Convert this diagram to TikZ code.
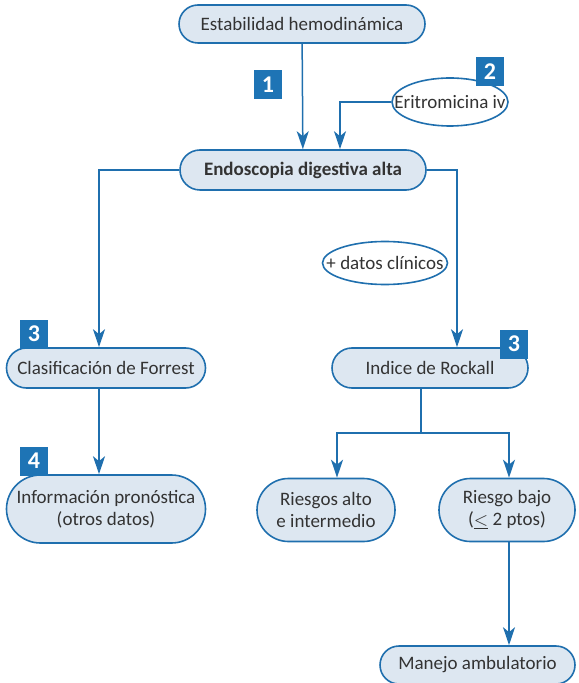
\documentclass[tikz,border=0pt]{standalone}
\usepackage{fontspec}
\setmainfont{Carlito}
\usepackage{xcolor}
\usetikzlibrary{positioning, arrows.meta, shapes.misc, shapes.geometric}

\definecolor{azul}{HTML}{1F6FAE}
\definecolor{celeste}{HTML}{DDE7F1}
\definecolor{insignia}{HTML}{1E74B5}
\definecolor{texto}{HTML}{333333}

\begin{document}
\begin{tikzpicture}[x=0.5pt,y=-0.5pt,->,>={Stealth[length=9pt,width=6pt,inset=2.5pt]},
                    line width=0.75pt,draw=azul,
                    main node/.style={rounded rectangle,fill=celeste,draw=azul,line width=0.8pt,
                        text=texto,font=\fontsize{9.5}{11}\selectfont,align=center,inner sep=1pt},
                    oval node/.style={ellipse,draw=azul,fill=white,line width=0.8pt,text=texto,
                        font=\fontsize{9.5}{11}\selectfont,inner xsep=-9pt,inner ysep=0pt},
                    badge/.style={fill=insignia,text=white,font=\fontsize{12}{12}\selectfont\bfseries,
                        minimum width=14pt,minimum height=14.5pt,inner sep=0pt}]

        \useasboundingbox (0,0) rectangle (578,683);

        \node[main node, minimum width=125pt, minimum height=19pt] (estab) at (302,24) {Estabilidad hemodinámica};
        \node[main node, minimum width=125pt, minimum height=20pt, font=\fontsize{9.5}{11}\selectfont\bfseries] (endo) at (303,170) {Endoscopia digestiva alta};
        \node[oval node, minimum width=58pt, minimum height=24pt] (eritro) at (450,102) {Eritromicina iv};
        \node[oval node, minimum width=62.5pt, minimum height=21.5pt] (datos) at (385,263) {+ datos clínicos};

        \node[main node, minimum width=101.5pt, minimum height=20pt] (forrest) at (106,368) {Clasificación de Forrest};
        \node[main node, minimum width=100pt, minimum height=20pt] (rockall) at (430,368) {Indice de Rockall};
        \node[main node, minimum width=101.5pt, minimum height=34pt] (info) at (106,509) {Información pronóstica\\(otros datos)};
        \node[main node, minimum width=71pt, minimum height=31.5pt] (alto) at (326,510) {Riesgos alto\\e intermedio};
        \node[main node, minimum width=70pt, minimum height=31.5pt] (bajo) at (507,510) {Riesgo bajo\\($\underline{<}$ 2 ptos)};
        \node[main node, minimum width=99.5pt, minimum height=19pt] (manejo) at (477.5,665) {Manejo ambulatorio};

        \node[badge] (b1) at (268,85) {1};
        \node[badge] (b2) at (490,72) {2};
        \node[badge] (b3a) at (34,334) {3};
        \node[badge] (b3b) at (514,344) {3};
        \node[badge] (b4) at (34,461) {4};

        % esquinas de los conectores
        \coordinate (eritrocodo) at (340,102);
        \coordinate (izqcodo) at (99,170);
        \coordinate (dercodo) at (457,170);
        \coordinate (split) at (421,433);
        \coordinate (altocodo) at (337,433);
        \coordinate (bajocodo) at (509,433);

        \draw (estab) -- (endo);
        \draw (eritro.west) -- (eritrocodo) -- (eritrocodo |- endo.north);
        \draw (endo.west) -- (izqcodo) -- (izqcodo |- forrest.north);
        \draw (endo.east) -- (dercodo) -- (dercodo |- rockall.north);
        \draw (izqcodo |- forrest.south) -- (izqcodo |- info.north);
        \draw[-] (split |- rockall.south) -- (split);
        \draw (split) -- (altocodo) -- (altocodo |- alto.north);
        \draw (split) -- (bajocodo) -- (bajocodo |- bajo.north);
        \draw (bajocodo |- bajo.south) -- (bajocodo |- manejo.north);
\end{tikzpicture}
\end{document}
